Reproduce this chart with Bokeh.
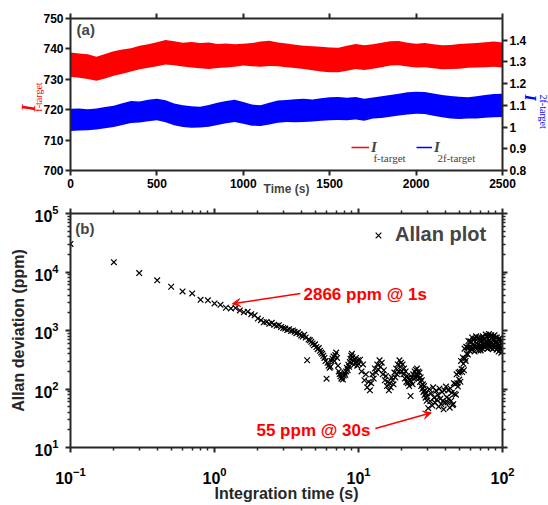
import math
import numpy as np
from bokeh.plotting import figure
from bokeh.models import (Range1d, LinearAxis, LogAxis, FixedTicker, Label, Legend,
                          LegendItem, Arrow, VeeHead, CustomJSTickFormatter, BasicTickFormatter)
from bokeh.layouts import column
from bokeh.embed import file_html
from bokeh.resources import INLINE

SANS = "Liberation Sans"
SERIF = "Liberation Serif"
AXC = "#262626"
NB = "\u00a0"

# ---------------- data: panel (a) ----------------
time_s = list(range(0, 2501, 50))
red_upper = [738.8, 738.5, 738.2, 737.4, 738.3, 739.2, 739.8, 740.2, 741.0, 741.5,
             742.2, 742.9, 742.5, 742.0, 742.3, 741.9, 742.1, 741.6, 741.8, 741.5,
             741.7, 741.9, 742.4, 742.7, 742.1, 741.8, 741.4, 741.0, 740.9, 740.7,
             740.5, 740.4, 741.0, 741.6, 741.2, 741.5, 742.0, 742.5, 742.6, 742.0,
             741.7, 741.9, 741.5, 741.2, 741.3, 741.6, 741.8, 741.9, 742.2, 742.4, 742.1]
red_lower = [730.8, 730.5, 730.1, 729.5, 730.3, 731.2, 731.8, 732.6, 733.3, 733.8,
             734.3, 734.9, 734.6, 734.2, 733.9, 733.6, 733.4, 733.7, 733.9, 734.1,
             734.5, 734.3, 734.1, 734.4, 734.3, 734.0, 733.7, 733.4, 733.0, 732.6,
             732.3, 732.3, 732.8, 733.4, 733.1, 733.5, 734.0, 734.5, 734.6, 734.2,
             733.9, 734.0, 733.6, 733.3, 733.4, 733.5, 733.8, 733.9, 734.0, 734.1, 733.9]
blue_upper = [1.084, 1.086, 1.082, 1.085, 1.092, 1.098, 1.110, 1.120, 1.118, 1.126,
              1.131, 1.124, 1.108, 1.100, 1.096, 1.094, 1.102, 1.112, 1.120, 1.126,
              1.115, 1.104, 1.100, 1.112, 1.122, 1.125, 1.128, 1.130, 1.127, 1.133,
              1.137, 1.138, 1.135, 1.138, 1.130, 1.136, 1.142, 1.148, 1.154, 1.160,
              1.163, 1.161, 1.155, 1.148, 1.143, 1.140, 1.137, 1.142, 1.148, 1.152, 1.153]
blue_lower = [0.982, 0.984, 0.985, 0.989, 0.994, 1.000, 1.010, 1.019, 1.021, 1.027,
              1.031, 1.022, 1.008, 1.000, 0.997, 0.998, 1.002, 1.010, 1.018, 1.023,
              1.015, 1.006, 1.005, 1.012, 1.020, 1.023, 1.022, 1.023, 1.026, 1.029,
              1.031, 1.033, 1.031, 1.035, 1.029, 1.039, 1.042, 1.047, 1.053, 1.058,
              1.061, 1.060, 1.052, 1.045, 1.039, 1.037, 1.039, 1.040, 1.043, 1.045, 1.046]
x_ticks_a = [0, 500, 1000, 1500, 2000, 2500]
yl_ticks_a = [700, 710, 720, 730, 740, 750]
yr_ticks_a = [0.8, 0.9, 1.0, 1.1, 1.2, 1.3, 1.4]

# ---------------- data: panel (b) ----------------
tau_a = [0.1, 0.2, 0.3, 0.4, 0.5, 0.6, 0.7, 0.8, 0.9, 1.0]
adev_a = [30200, 14700, 9600, 7200, 5600, 4650, 4300, 3350, 3280, 2900]
tau_b = [round(v, 1) for v in np.arange(1.1, 10.05, 0.1)]
adev_b = [2750, 2450, 2380, 2420, 2200, 2050, 2100, 1900, 1820, 1600,
          1500, 1380, 1400, 1300, 1350, 1250, 1200, 1230, 1150, 1100,
          1080, 1020, 1050, 980, 1000, 950, 900, 930, 870, 820,
          790, 850, 760, 310, 700, 680, 640, 600, 560, 580,
          520, 480, 500, 450, 420, 400, 370, 340, 300, 150,
          280, 250, 230, 240, 300, 330, 360, 300, 380, 420,
          340, 250, 200, 180, 165, 150, 160, 145, 170, 190,
          175, 200, 230, 210, 260, 240, 290, 330, 370, 400,
          350, 300, 260, 320, 280, 340, 290, 250, 310, 270]
tau_c = [round(v, 2) for v in np.arange(10.25, 30.01, 0.25)]
adev_c = [316, 200, 263, 141, 178, 107, 132, 95,
          126, 178, 151, 224, 191, 263, 214, 309,
          240, 282, 178, 209, 141, 166, 112, 132,
          95, 126, 107, 158, 141, 120, 191, 158,
          224, 178, 263, 200, 309, 240, 282, 200,
          263, 178, 224, 151, 200, 132, 166, 126,
          158, 112, 141, 76, 132, 158, 120, 178,
          151, 200, 158, 214, 178, 224, 166, 200,
          151, 191, 132, 158, 112, 141, 100, 120,
          89, 112, 79, 95, 71, 85, 63, 76]
tau_d = [round(v, 1) for v in np.arange(30.5, 100.01, 0.5)]
adev_d = [47, 100, 62, 84, 52, 107, 71, 58, 93, 66,
          80, 50, 102, 68, 55, 89, 63, 45, 95, 59,
          110, 72, 59, 95, 68, 48, 102, 63, 86, 53,
          55, 126, 83, 122, 80, 178, 126, 110, 191, 145,
          197, 133, 302, 219, 195, 347, 269, 209, 490, 331,
          302, 525, 398, 513, 389, 661, 513, 457, 646, 525,
          646, 468, 759, 575, 501, 692, 550, 437, 724, 525,
          794, 603, 525, 724, 575, 457, 759, 550, 676, 490,
          457, 759, 550, 676, 490, 794, 603, 525, 724, 575,
          724, 525, 851, 646, 562, 776, 617, 490, 813, 589,
          871, 661, 575, 794, 631, 501, 832, 603, 741, 537,
          479, 794, 575, 708, 513, 832, 631, 550, 759, 603,
          646, 468, 759, 575, 501, 692, 550, 437, 724, 525,
          724, 550, 479, 661, 525, 417, 692, 501, 617, 447]
tau_all = tau_a + tau_b + tau_c + tau_d
adev_all = adev_a + adev_b + adev_c + adev_d
x_exps_b = [-1, 0, 1, 2]
y_exps_b = [1, 2, 3, 4, 5]


def hide_labels(ax):
    ax.major_label_text_color = None
    ax.major_label_text_font_size = "1px"
    ax.major_label_standoff = 0


def style_axis(ax, labels=True, size="12px", minor=False):
    ax.axis_line_width = 2
    ax.axis_line_color = AXC
    ax.major_tick_line_width = 2
    ax.major_tick_line_color = AXC
    ax.major_tick_in = 0
    ax.major_tick_out = 5
    ax.minor_tick_in = 0
    if minor:
        ax.minor_tick_out = 3
        ax.minor_tick_line_width = 1.5
        ax.minor_tick_line_color = AXC
    else:
        ax.minor_tick_line_color = None
    ax.major_label_text_font = SANS
    ax.major_label_text_font_style = "bold"
    ax.major_label_text_color = "black"
    ax.major_label_text_font_size = size
    ax.major_label_standoff = 2
    if not labels:
        hide_labels(ax)


def label_holder(ticks, **kw):
    ax = LinearAxis(ticker=FixedTicker(ticks=ticks), formatter=BasicTickFormatter(), **kw)
    ax.axis_line_color = None
    ax.major_tick_line_color = None
    ax.minor_tick_line_color = None
    ax.major_tick_out = 0
    ax.major_tick_in = 0
    hide_labels(ax)
    return ax


# ================= panel (a) =================
p1 = figure(frame_width=432, frame_height=152, x_range=Range1d(0, 2500),
            y_range=Range1d(700, 750), min_border_left=70, min_border_right=46,
            min_border_top=18, min_border_bottom=30, output_backend="svg",
            toolbar_location=None)
p1.extra_y_ranges = {"right": Range1d(0.8, 1.5)}
p1.grid.visible = False
p1.outline_line_color = None

r_red = p1.varea(x=time_s, y1=red_lower, y2=red_upper, fill_color="#ff0000")
r_blue = p1.varea(x=time_s, y1=blue_lower, y2=blue_upper, fill_color="#0000ff",
                  y_range_name="right")

p1.xaxis.ticker = FixedTicker(ticks=x_ticks_a)
p1.yaxis.ticker = FixedTicker(ticks=yl_ticks_a)
style_axis(p1.xaxis[0])
style_axis(p1.yaxis[0])
p1.xaxis.major_label_standoff = 3
p1.xaxis.axis_label = "Time (s)"
p1.xaxis.axis_label_text_font = SANS
p1.xaxis.axis_label_text_font_style = "bold"
p1.xaxis.axis_label_text_font_size = "12px"
p1.xaxis.axis_label_standoff = -9

# left label: subscript on main axis, big I on an outer holder axis
p1.yaxis.axis_label = "f-target" + NB * 2
p1.yaxis.axis_label_text_font = SERIF
p1.yaxis.axis_label_text_font_style = "normal"
p1.yaxis.axis_label_text_font_size = "10px"
p1.yaxis.axis_label_text_color = "#ff0000"
p1.yaxis.axis_label_standoff = -4
ax_li = label_holder(yl_ticks_a)
ax_li.axis_label = "I" + NB * 6
ax_li.axis_label_text_font = SERIF
ax_li.axis_label_text_font_style = "bold italic"
ax_li.axis_label_text_font_size = "18px"
ax_li.axis_label_text_color = "#ff0000"
ax_li.axis_label_standoff = -8
p1.add_layout(ax_li, "left")

ax_top = LinearAxis(ticker=FixedTicker(ticks=x_ticks_a))
style_axis(ax_top, labels=False)
p1.add_layout(ax_top, "above")
ax_r = LinearAxis(y_range_name="right", ticker=FixedTicker(ticks=yr_ticks_a),
                  formatter=CustomJSTickFormatter(code="return String(Math.round(tick*10)/10);"))
style_axis(ax_r)
ax_r.axis_label = "I" + NB * 5
ax_r.axis_label_orientation = -math.pi / 2
ax_r.axis_label_text_font = SERIF
ax_r.axis_label_text_font_style = "bold italic"
ax_r.axis_label_text_font_size = "16px"
ax_r.axis_label_text_color = "#0000ff"
ax_r.axis_label_standoff = 1
p1.add_layout(ax_r, "right")
ax_rs = label_holder(yr_ticks_a, y_range_name="right")
ax_rs.axis_label = "2f-target"
ax_rs.axis_label_orientation = -math.pi / 2
ax_rs.axis_label_text_font = SERIF
ax_rs.axis_label_text_font_style = "normal"
ax_rs.axis_label_text_font_size = "10px"
ax_rs.axis_label_text_color = "#0000ff"
ax_rs.axis_label_standoff = -7
p1.add_layout(ax_rs, "right")

p1.add_layout(Label(x=35, y=746.5, text="(a)", text_font=SANS, text_font_style="bold",
                    text_font_size="15px", text_baseline="middle", text_align="left"))

# legend of panel (a): sample lines only (single off-range vertex, nothing drawn in frame)
r_leg_red = p1.line(x=[-1000], y=[0], line_color="#ff0000", line_width=1.5)
r_leg_blue = p1.line(x=[-1000], y=[0], line_color="#0000ff", line_width=1.5)
for rend, loc, gw in [(r_leg_red, (281, 13), 18), (r_leg_blue, (346, 13), 16)]:
    lg = Legend(items=[LegendItem(label="I", renderers=[rend])], location=loc,
                glyph_width=gw, label_standoff=2, padding=0, margin=0,
                border_line_color=None, background_fill_alpha=0,
                label_text_font=SERIF, label_text_font_style="bold italic",
                label_text_font_size="15px")
    p1.add_layout(lg)
p1.add_layout(Label(x=1753, y=704.26, text="f-target", text_font=SERIF, text_font_size="11px",
                    text_align="left", text_baseline="alphabetic"))
p1.add_layout(Label(x=2124, y=704.26, text="2f-target", text_font=SERIF, text_font_size="11px",
                    text_align="left", text_baseline="alphabetic"))

# ================= panel (b) =================
p2 = figure(frame_width=432, frame_height=234, x_axis_type="log", y_axis_type="log",
            x_range=Range1d(0.1, 100), y_range=Range1d(10, 1e5),
            min_border_left=70, min_border_right=46, min_border_top=13, min_border_bottom=58,
            output_backend="svg", toolbar_location=None)
p2.grid.visible = False
p2.outline_line_color = None

x_major = [10.0 ** e for e in x_exps_b]
x_minor = [m * 10.0 ** e for e in x_exps_b[:-1] for m in range(2, 10)]
y_major = [10.0 ** e for e in y_exps_b]
y_minor = [m * 10.0 ** e for e in y_exps_b[:-1] for m in range(2, 10)]

xa = p2.xaxis[0]
xa.ticker = FixedTicker(ticks=x_major, minor_ticks=x_minor)
style_axis(xa, labels=True, size="16px", minor=True)
xa.major_label_standoff = 14
xa.axis_label = "Integration time (s)"
ya = p2.yaxis[0]
ya.ticker = FixedTicker(ticks=y_major, minor_ticks=y_minor)
style_axis(ya, labels=True, size="16px", minor=True)
ya.major_label_standoff = 7
ya.axis_label = "Allan deviation (ppm)"
for ax in (xa, ya):
    ax.axis_label_text_font = SANS
    ax.axis_label_text_font_style = "bold"
    ax.axis_label_text_font_size = "16px"
    ax.axis_label_text_color = "#262626"
xa.axis_label_standoff = -2
ya.axis_label_standoff = 4

ax2_top = LogAxis(ticker=FixedTicker(ticks=x_major, minor_ticks=x_minor),
                  formatter=BasicTickFormatter())
style_axis(ax2_top, labels=False, minor=True)
p2.add_layout(ax2_top, "above")
ax2_r = LogAxis(ticker=FixedTicker(ticks=y_major, minor_ticks=y_minor),
                formatter=BasicTickFormatter())
style_axis(ax2_r, labels=False, minor=True)
p2.add_layout(ax2_r, "right")

r_allan = p2.scatter(x=tau_all, y=adev_all, marker="x", size=8, line_color="black",
                     line_width=1.2)
lg2 = Legend(items=[LegendItem(label="Allan plot", renderers=[r_allan])], location=(298, 201),
             glyph_width=20, label_standoff=7, padding=0, margin=0, border_line_color=None,
             background_fill_alpha=0, label_text_font=SANS, label_text_font_style="bold",
             label_text_font_size="20px")
p2.add_layout(lg2)

p2.add_layout(Label(x=0.108, y=56500, text="(b)", text_font=SANS, text_font_style="bold",
                    text_font_size="15px", text_align="left", text_baseline="middle"))

p2.add_layout(Arrow(x_start=3.95, y_start=4285, x_end=1.33, y_end=2860, line_color="#ff0000",
                    line_width=1.5, end=VeeHead(size=8, fill_color="#ff0000",
                                                line_color="#ff0000")))
p2.add_layout(Arrow(x_start=13.1, y_start=21.1, x_end=32, y_end=39.2, line_color="#ff0000",
                    line_width=1.5, end=VeeHead(size=8, fill_color="#ff0000",
                                                line_color="#ff0000")))
p2.add_layout(Label(x=4.15, y=4121, text="2866 ppm @ 1s", text_font=SANS, text_font_style="bold",
                    text_font_size="17px", text_color="#ff0000", text_align="left",
                    text_baseline="middle"))
p2.add_layout(Label(x=1.957, y=19.5, text="55 ppm @ 30s", text_font=SANS, text_font_style="bold",
                    text_font_size="17px", text_color="#ff0000", text_align="left",
                    text_baseline="middle"))

layout = column(p1, p2, spacing=0)
open("out.html", "w").write(file_html(layout, INLINE))
